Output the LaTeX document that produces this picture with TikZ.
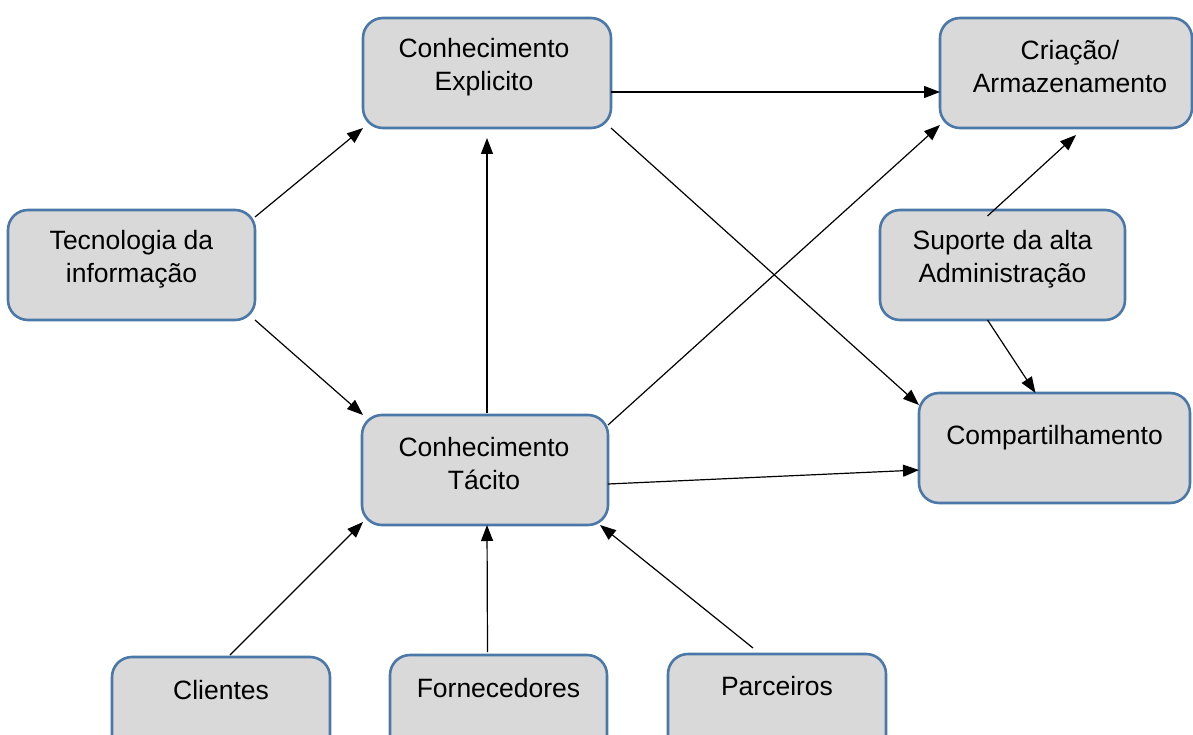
\documentclass[tikz,border=0pt]{standalone}
\usepackage{fontspec}
\setmainfont{Liberation Sans}
\usetikzlibrary{arrows.meta,calc}
\definecolor{boxfill}{HTML}{D9D9D9}
\definecolor{boxline}{HTML}{4A78A8}
\tikzset{
  box/.style={draw=boxline, fill=boxfill, line width=2.6pt, rounded corners=20pt,
    inner sep=0pt, outer sep=0pt},
  txt/.style={font=\fontsize{26.5}{33}\selectfont, align=center, inner sep=0pt, text=black},
  link/.style={draw=black, line width=1.2pt, -{Triangle[length=16pt,width=12pt]}}
}
\begin{document}
\begin{tikzpicture}[x=1pt,y=-1pt]
\useasboundingbox (0,0) rectangle (1193,735);
\begin{scope}
\clip (0,0) rectangle (1193,735);
% boxes
\node[box, minimum width=248pt, minimum height=110pt] (expl) at (487,73) {};
\node[box, minimum width=252pt, minimum height=110pt] (cria) at (1066,73) {};
\node[box, minimum width=247pt, minimum height=110pt] (tec) at (131.5,265) {};
\node[box, minimum width=245pt, minimum height=110pt] (sup) at (1002.5,265) {};
\node[box, minimum width=246pt, minimum height=110pt] (tac) at (485,470) {};
\node[box, minimum width=271pt, minimum height=110pt] (comp) at (1054.5,448) {};
\node[box, minimum width=218pt, minimum height=110pt] (cli) at (221,712) {};
\node[box, minimum width=217pt, minimum height=110pt] (forn) at (498.5,710) {};
\node[box, minimum width=218pt, minimum height=110pt] (parc) at (777,709) {};
% labels
\node[txt] (expl-t) at (484,67) {Conhecimento\\Explicito};
\node[txt] (cria-t) at (1070,67) {Criação/\\Armazenamento};
\node[txt] (tec-t) at (131.5,259) {Tecnologia da\\informação};
\node[txt] (sup-t) at (1002.5,259) {Suporte da alta\\Administração};
\node[txt] (tac-t) at (484,464) {Conhecimento\\Tácito};
\node[txt] (comp-t) at (1054.5,438) {Compartilhamento};
\node[txt] (cli-t) at (221,690) {Clientes};
\node[txt] (forn-t) at (498.5,688) {Fornecedores};
\node[txt] (parc-t) at (777,686) {Parceiros};
% connectors
\draw[link] ($(tec.north east)+(0,7)$) -- ($(expl.south west)+(0,0)$);
\draw[link] (tec.south east) -- ($(tac.north west)+(1,0)$);
\draw[link] ($(tac.north)+(2,-2)$) -- ($(expl.south)+(0,10)$);
\draw[link] ($(expl.east)+(0,19)$) -- ($(cria.west)+(0,19)$);
\draw[link] ($(expl.south east)+(0,0)$) -- ($(comp.west)+(0,-43)$);
\draw[link] ($(tac.north east)+(0,10)$) -- ($(cria.south west)+(0,-3)$);
\draw[link] ($(tac.east)+(0,14)$) -- ($(comp.west)+(0,22)$);
\draw[link] ($(sup.north)+(-15,6)$) -- ($(cria.south)+(10,7)$);
\draw[link] ($(sup.south)+(-15,0)$) -- ($(comp.north)+(-19,0)$);
\draw[link] ($(cli.north)+(9,-2)$) -- ($(tac.south west)+(1,-3)$);
\draw[link] ($(forn.north)+(-11,-3)$) -- ($(tac.south)+(2,0)$);
\draw[link] ($(parc.north)+(-24,-6)$) -- ($(tac.south east)+(-8,0)$);
\end{scope}
\end{tikzpicture}
\end{document}
